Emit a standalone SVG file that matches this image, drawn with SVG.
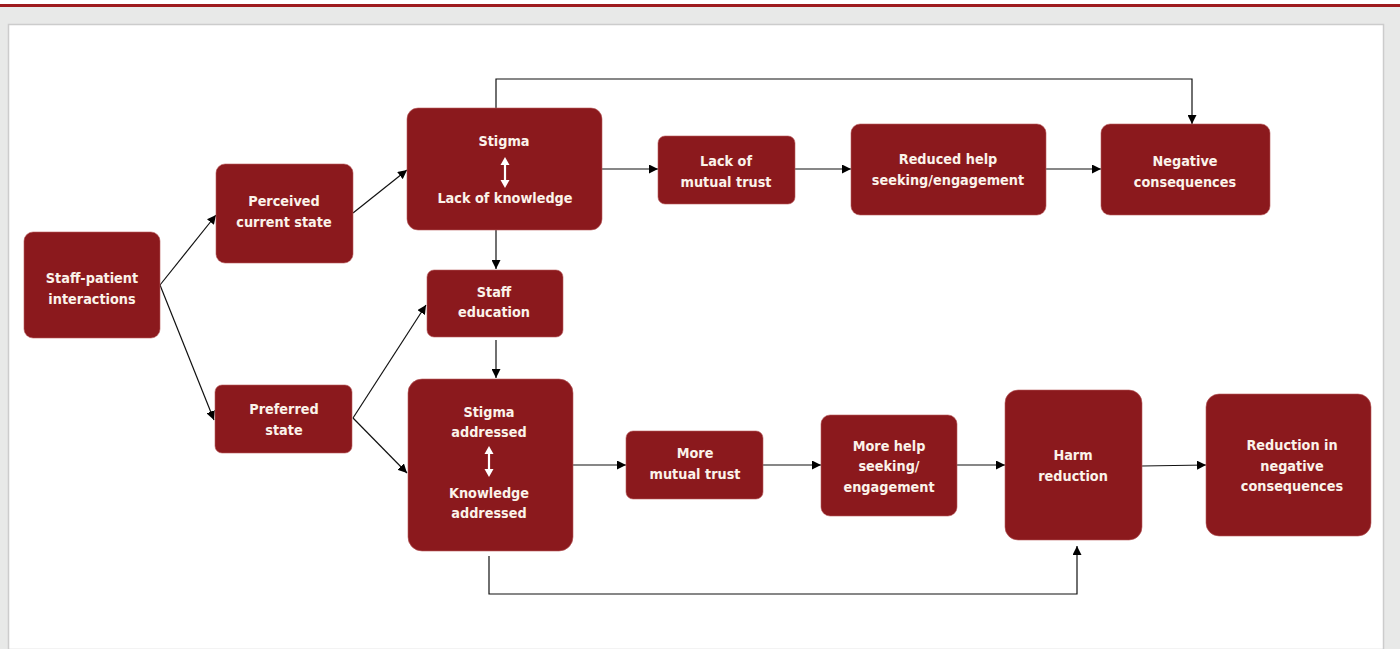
<svg xmlns="http://www.w3.org/2000/svg" width="1400" height="649" viewBox="0 0 1400 649">
<defs>
<style>
.box{fill:#8b191d;stroke:#b85a5c;stroke-width:0.6}
.t{font-family:"Liberation Sans Narrow","DejaVu Sans Condensed","Liberation Sans",sans-serif;font-weight:bold;font-size:14.3px;fill:#fbf3ea;text-anchor:middle}
.c{fill:none;stroke:#111;stroke-width:1.2}
.w{stroke:#fff;stroke-width:2.2;fill:none}
.wh{fill:#fff}
</style>
<marker id="ah" viewBox="0 0 10 10" refX="10" refY="5" markerWidth="9" markerHeight="9" markerUnits="userSpaceOnUse" orient="auto"><path d="M0,0 L10,5 L0,10 z" fill="#000"/></marker>
</defs>
<rect x="0" y="0" width="1400" height="649" fill="#e8e9e8"/>
<rect x="0" y="0" width="1400" height="4" fill="#fff"/>
<rect x="0" y="4" width="1400" height="3" fill="#9e1b1e"/>
<rect x="8.5" y="24.5" width="1375" height="625" fill="#fff" stroke="#cccccc" stroke-width="1.5"/>

<g id="connectors">
<path class="c" d="M160,285 L216,215" marker-end="url(#ah)"/>
<path class="c" d="M160,285 L214,420" marker-end="url(#ah)"/>
<path class="c" d="M353,213 L407,170" marker-end="url(#ah)"/>
<path class="c" d="M353,418 L426,305" marker-end="url(#ah)"/>
<path class="c" d="M353,418 L407,473" marker-end="url(#ah)"/>
<path class="c" d="M496,230 L496,269" marker-end="url(#ah)"/>
<path class="c" d="M496,340 L496,378" marker-end="url(#ah)"/>
<path class="c" d="M602,169 L658,169" marker-end="url(#ah)"/>
<path class="c" d="M795,169 L851,169" marker-end="url(#ah)"/>
<path class="c" d="M1046,169 L1101,169" marker-end="url(#ah)"/>
<path class="c" d="M496,108 L496,79 L1192,79 L1192,124" marker-end="url(#ah)"/>
<path class="c" d="M573,465 L626,465" marker-end="url(#ah)"/>
<path class="c" d="M763,465 L821,465" marker-end="url(#ah)"/>
<path class="c" d="M957,465 L1005,465" marker-end="url(#ah)"/>
<path class="c" d="M1142,466 L1206,465" marker-end="url(#ah)"/>
<path class="c" d="M489,556 L489,594 L1077,594 L1077,546" marker-end="url(#ah)"/>
</g>

<g id="n-staff-patient">
<rect class="box" x="24" y="232" width="136" height="106" rx="9"/>
<text class="t" x="92" y="283">Staff-patient</text>
<text class="t" x="92" y="304">interactions</text>
</g>
<g id="n-perceived">
<rect class="box" x="216" y="164" width="137" height="99" rx="9"/>
<text class="t" x="284" y="206">Perceived</text>
<text class="t" x="284" y="227">current state</text>
</g>
<g id="n-stigma">
<rect class="box" x="407" y="108" width="195" height="122" rx="11"/>
<text class="t" x="504" y="146">Stigma</text>
<line class="w" x1="505" y1="163" x2="505" y2="181"/>
<polygon class="wh" points="505,157 500.5,165 509.5,165"/>
<polygon class="wh" points="505,188 500.5,180 509.5,180"/>
<text class="t" x="505" y="203">Lack of knowledge</text>
</g>
<g id="n-lack-trust">
<rect class="box" x="658" y="136" width="137" height="68" rx="7"/>
<text class="t" x="726" y="166">Lack of</text>
<text class="t" x="726" y="187">mutual trust</text>
</g>
<g id="n-reduced-help">
<rect class="box" x="851" y="124" width="195" height="91" rx="9"/>
<text class="t" x="948" y="164">Reduced help</text>
<text class="t" x="948" y="185">seeking/engagement</text>
</g>
<g id="n-negative">
<rect class="box" x="1101" y="124" width="169" height="91" rx="9"/>
<text class="t" x="1185" y="166">Negative</text>
<text class="t" x="1185" y="187">consequences</text>
</g>
<g id="n-staff-education">
<rect class="box" x="427" y="270" width="136" height="67" rx="7"/>
<text class="t" x="494" y="297">Staff</text>
<text class="t" x="494" y="317">education</text>
</g>
<g id="n-preferred">
<rect class="box" x="215" y="385" width="137" height="68" rx="7"/>
<text class="t" x="284" y="414">Preferred</text>
<text class="t" x="284" y="435">state</text>
</g>
<g id="n-stigma-addressed">
<rect class="box" x="408" y="379" width="165" height="172" rx="14"/>
<text class="t" x="489" y="417">Stigma</text>
<text class="t" x="489" y="437">addressed</text>
<line class="w" x1="489" y1="452" x2="489" y2="470"/>
<polygon class="wh" points="489,446 484.5,454 493.5,454"/>
<polygon class="wh" points="489,477 484.5,469 493.5,469"/>
<text class="t" x="489" y="498">Knowledge</text>
<text class="t" x="489" y="518">addressed</text>
</g>
<g id="n-more-trust">
<rect class="box" x="626" y="431" width="137" height="68" rx="7"/>
<text class="t" x="695" y="458">More</text>
<text class="t" x="695" y="479">mutual trust</text>
</g>
<g id="n-more-help">
<rect class="box" x="821" y="415" width="136" height="101" rx="9"/>
<text class="t" x="889" y="451">More help</text>
<text class="t" x="889" y="471">seeking/</text>
<text class="t" x="889" y="492">engagement</text>
</g>
<g id="n-harm">
<rect class="box" x="1005" y="390" width="137" height="150" rx="13"/>
<text class="t" x="1073" y="460">Harm</text>
<text class="t" x="1073" y="481">reduction</text>
</g>
<g id="n-reduction">
<rect class="box" x="1206" y="394" width="165" height="142" rx="13"/>
<text class="t" x="1292" y="450">Reduction in</text>
<text class="t" x="1292" y="471">negative</text>
<text class="t" x="1292" y="491">consequences</text>
</g>
</svg>
